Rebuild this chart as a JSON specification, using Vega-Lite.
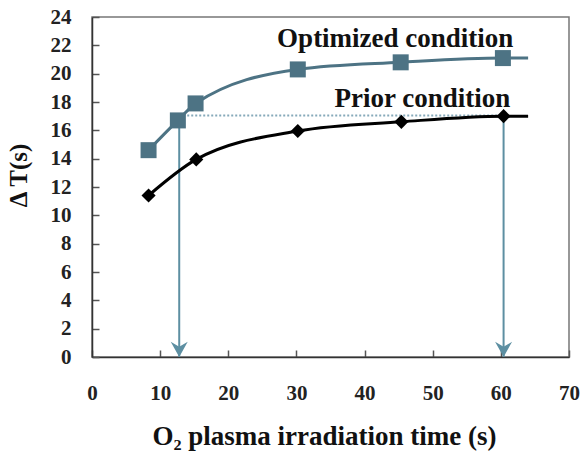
{
  "$schema": "https://vega.github.io/schema/vega-lite/v6.json",
  "width": 477,
  "height": 340,
  "autosize": {"type": "none"},
  "padding": {"left": 92, "top": 17, "right": 12, "bottom": 99},
  "background": "white",
  "config": {
    "view": {"stroke": "#777", "strokeWidth": 1.5},
    "font": "Liberation Serif",
    "axis": {"labelOverlap": false, "labelFlush": false, "grid": false, "ticks": true, "tickColor": "#555", "tickSize": -7, "tickWidth": 1.5, "domainColor": "#333", "domainWidth": 1.5}
  },
  "datasets": {
    "series": [
      {"series": "Optimized", "t": 8.3, "dt": 14.6, "marker": true},
      {"series": "Optimized", "t": 12.6, "dt": 16.7, "marker": true},
      {"series": "Optimized", "t": 15.2, "dt": 17.9, "marker": true},
      {"series": "Optimized", "t": 30.2, "dt": 20.3, "marker": true},
      {"series": "Optimized", "t": 45.3, "dt": 20.8, "marker": true},
      {"series": "Optimized", "t": 60.3, "dt": 21.1, "marker": true},
      {"series": "Optimized", "t": 64, "dt": 21.1, "marker": false},
      {"series": "Prior", "t": 8.3, "dt": 11.4, "marker": true},
      {"series": "Prior", "t": 15.3, "dt": 13.95, "marker": true},
      {"series": "Prior", "t": 30.2, "dt": 15.95, "marker": true},
      {"series": "Prior", "t": 45.4, "dt": 16.6, "marker": true},
      {"series": "Prior", "t": 60.4, "dt": 17.0, "marker": true},
      {"series": "Prior", "t": 64, "dt": 17.0, "marker": false}
    ],
    "arrows": [
      {"t": 12.8, "top": 16.6, "bottom": 0},
      {"t": 60.4, "top": 17.0, "bottom": 0}
    ],
    "dotted": [
      {"t": 12.8, "t2": 60.4, "dt": 17.05}
    ],
    "labels": [
      {"label": "Optimized condition", "t": 44.5, "dt": 21.9},
      {"label": "Prior condition", "t": 48.5, "dt": 17.65}
    ]
  },
  "layer": [
    {
      "data": {"name": "dotted"},
      "mark": {"type": "rule", "color": "#86a9ba", "strokeWidth": 2, "strokeDash": [2, 2]},
      "encoding": {
        "x": {"field": "t", "type": "quantitative", "scale": {"domain": [0, 70], "nice": false},
          "axis": {
            "values": [0, 10, 20, 30, 40, 50, 60, 70], "tickCount": 20,
            "labelOverlap": false, "labelFlush": false,
            "labelFont": "Liberation Serif", "labelFontWeight": "bold", "labelFontSize": 21, "labelColor": "#222",
            "labelPadding": 32,
            "title": "O₂ plasma irradiation time (s)",
            "titleFont": "Liberation Serif", "titleFontWeight": "bold", "titleFontSize": 27, "titleColor": "#111",
            "titlePadding": 20, "titleX": 232
          }},
        "x2": {"field": "t2"},
        "y": {"field": "dt", "type": "quantitative", "scale": {"domain": [0, 24], "nice": false},
          "axis": {
            "values": [0, 2, 4, 6, 8, 10, 12, 14, 16, 18, 20, 22, 24], "tickCount": 30,
            "labelOverlap": false, "labelFlush": false,
            "labelFont": "Liberation Serif", "labelFontWeight": "bold", "labelFontSize": 21, "labelColor": "#222",
            "labelPadding": 28,
            "title": "Δ T(s)",
            "titleFont": "Liberation Serif", "titleFontWeight": "bold", "titleFontSize": 25, "titleColor": "#111",
            "titleX": -74, "titleY": 158, "titleBaseline": "middle", "titleAlign": "center", "titleAngle": -90
          }}
      }
    },
    {
      "data": {"name": "arrows"},
      "mark": {"type": "rule", "color": "#5d8fa2", "strokeWidth": 2},
      "encoding": {
        "x": {"field": "t", "type": "quantitative"},
        "y": {"field": "top", "type": "quantitative"},
        "y2": {"field": "bottom"}
      }
    },
    {
      "data": {"name": "arrows"},
      "mark": {"type": "point", "shape": "M0,0L-1,-1.8L0,-1.2L1,-1.8Z", "filled": true, "color": "#5d8fa2", "size": 289, "opacity": 1},
      "encoding": {
        "x": {"field": "t", "type": "quantitative"},
        "y": {"field": "bottom", "type": "quantitative"}
      }
    },
    {
      "data": {"name": "series"},
      "mark": {"type": "line", "interpolate": "monotone", "strokeWidth": 3},
      "encoding": {
        "x": {"field": "t", "type": "quantitative"},
        "y": {"field": "dt", "type": "quantitative"},
        "color": {"field": "series", "type": "nominal", "scale": {"domain": ["Optimized", "Prior"], "range": ["#4d7384", "#000000"]}, "legend": null}
      }
    },
    {
      "data": {"name": "series"},
      "transform": [{"filter": "datum.marker && datum.series == 'Optimized'"}],
      "mark": {"type": "point", "shape": "square", "filled": true, "size": 256, "color": "#4d7384", "opacity": 1},
      "encoding": {
        "x": {"field": "t", "type": "quantitative"},
        "y": {"field": "dt", "type": "quantitative"}
      }
    },
    {
      "data": {"name": "series"},
      "transform": [{"filter": "datum.marker && datum.series == 'Prior'"}],
      "mark": {"type": "point", "shape": "diamond", "filled": true, "size": 200, "color": "#000000", "opacity": 1},
      "encoding": {
        "x": {"field": "t", "type": "quantitative"},
        "y": {"field": "dt", "type": "quantitative"}
      }
    },
    {
      "data": {"name": "labels"},
      "mark": {"type": "text", "font": "Liberation Serif", "fontWeight": "bold", "fontSize": 27, "color": "#111", "align": "center", "baseline": "alphabetic"},
      "encoding": {
        "x": {"field": "t", "type": "quantitative"},
        "y": {"field": "dt", "type": "quantitative"},
        "text": {"field": "label"}
      }
    }
  ]
}
